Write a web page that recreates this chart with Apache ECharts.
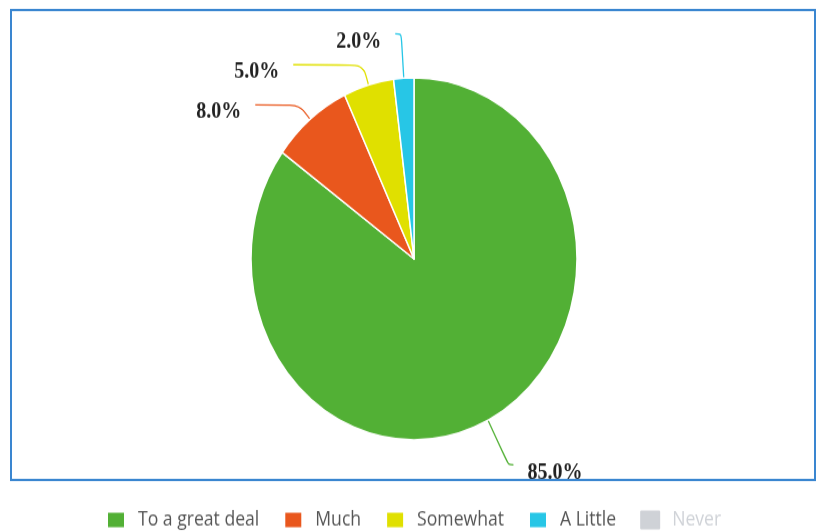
<!DOCTYPE html>
<html><head><meta charset="utf-8">
<script src="https://cdn.jsdelivr.net/npm/echarts@6/dist/echarts.min.js"></script>
<style>
html,body{margin:0;padding:0;background:#fff;overflow:hidden;}
#wrap{width:817px;height:531px;overflow:hidden;}
#c{width:817px;height:478px;transform:scale(1,1.111);transform-origin:0 0;}
</style></head>
<body><div id="wrap"><div id="c"></div></div>
<script>
const categories = ["To a great deal", "Much", "Somewhat", "A Little", "Never"];
const values = [85, 8, 5, 2, 0];
const colors = ["#52b035", "#e9571d", "#e0e000", "#27c6e6", "#bdbdbd"];
const lineLengths = [[45, 5], [17, 44], [19, 70], [40, 6], [10, 10]];

const chart = echarts.init(document.getElementById('c'));
chart.setOption({
  animation: false,
  color: colors,
  graphic: [{
    type: 'rect', silent: true,
    shape: { x: 11, y: 9, width: 804, height: 423 },
    style: { fill: null, stroke: '#3a86d0', lineWidth: 2 }
  }],
  legend: {
    top: 454, left: 101,
    icon: 'rect',
    itemWidth: 18, itemHeight: 15, itemGap: 24,
    textStyle: { fontFamily: 'Open Sans', fontSize: 17.6, color: '#555', padding: [0, 0, 0, 8] },
    selected: { "Never": false },
    data: categories
  },
  series: [{
    type: 'pie',
    center: [414, 233],
    radius: 163,
    startAngle: 90,
    clockwise: true,
    avoidLabelOverlap: false,
    itemStyle: { borderColor: '#fff', borderWidth: 1.5 },
    label: {
      formatter: p => p.value.toFixed(1) + '%',
      fontFamily: 'Liberation Serif', fontWeight: 'bold', fontSize: 20, color: '#222',
      distanceToLabelLine: 14,
      offset: [0, 7]
    },
    labelLine: { smooth: 0.3, lineStyle: { width: 1.3 } },
    data: categories.map((n, i) => ({
      name: n, value: values[i],
      labelLine: { length: lineLengths[i][0], length2: lineLengths[i][1] }
    }))
  }]
});
</script></body></html>
